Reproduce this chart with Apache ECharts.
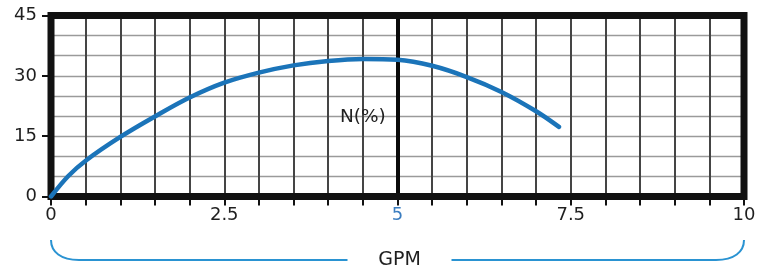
<!DOCTYPE html>
<html>
<head>
<meta charset="utf-8">
<script src="https://cdn.jsdelivr.net/npm/echarts@6/dist/echarts.min.js"></script>
<style>
html,body{margin:0;padding:0;background:#fff;}
#c{width:767px;height:271px;}
</style>
</head>
<body>
<div id="c"></div>
<script>
// Data
const gpm  = [0, 0.25, 0.5, 1, 1.5, 2, 2.5, 3, 3.5, 4, 4.5, 5, 5.5, 6, 6.5, 7, 7.33];
const nPct = [0, 5.1, 8.9, 14.8, 19.9, 24.6, 28.3, 30.8, 32.6, 33.7, 34.2, 34.0, 32.5, 29.7, 26.0, 21.2, 17.3];
const xTickLabels = [0, 2.5, 5, 7.5, 10];
const yTickLabels = [0, 15, 30, 45];
const xHighlight = 5;
const xTitle = 'GPM';
const seriesName = 'N(%)';
const nameAt = [4.5, 19.6];

const FONT = 'DejaVu Sans';
const TXT = '#1f1f1f';
const chart = echarts.init(document.getElementById('c'), null, {renderer: 'canvas'});

const option = {
  animation: false,
  backgroundColor: '#fff',
  grid: {left: 51, right: 23, top: 15.5, bottom: 74.5},
  xAxis: [{
    type: 'value', min: 0, max: 10, interval: 0.5, position: 'bottom',
    axisLine: {show: false},
    axisTick: {show: true, length: 9, lineStyle: {color: '#111', width: 2}},
    splitLine: {show: true, lineStyle: {color: '#454545', width: 2}},
    axisLabel: {
      show: true, margin: 10, fontFamily: FONT, fontSize: 18,
      color: function (v) { return Number(v) === xHighlight ? '#3b7dc0' : TXT; },
      formatter: function (v) { return xTickLabels.indexOf(v) >= 0 ? String(v) : ''; }
    }
  }],
  yAxis: [{
    type: 'value', min: 0, max: 45, interval: 5, position: 'right',
    axisLine: {show: false}, axisTick: {show: false}, axisLabel: {show: false},
    splitLine: {show: true, lineStyle: {color: '#9a9a9a', width: 1.3}}
  }, {
    type: 'value', min: 0, max: 45, interval: 15, position: 'left',
    axisLine: {show: false},
    axisTick: {show: true, length: 9, lineStyle: {color: '#111', width: 2}},
    splitLine: {show: false},
    axisLabel: {
      show: true, margin: 14, fontFamily: FONT, fontSize: 18, color: TXT,
      formatter: function (v) { return yTickLabels.indexOf(v) >= 0 ? String(v) : ''; }
    }
  }],
  series: [{
    type: 'line', name: seriesName, xAxisIndex: 0, yAxisIndex: 0,
    data: gpm.map((x, i) => [x, nPct[i]]),
    smooth: 0.35, showSymbol: false, symbol: 'none', z: 20,
    lineStyle: {color: '#1b74b9', width: 4.5, cap: 'round'},
    markLine: {
      silent: true, symbol: 'none', label: {show: false}, z: 3,
      lineStyle: {color: '#0a0a0a', width: 4, type: 'solid'},
      data: [{xAxis: xHighlight}]
    }
  }]
};
chart.setOption(option);

const p0 = chart.convertToPixel({xAxisIndex: 0, yAxisIndex: 0}, [0, 0]);
const p1 = chart.convertToPixel({xAxisIndex: 0, yAxisIndex: 0}, [10, 45]);
const pn = chart.convertToPixel({xAxisIndex: 0, yAxisIndex: 0}, nameAt);
const x0 = p0[0], x1 = p1[0], yb = p0[1], yt = p1[1];
const xm = (x0 + x1) / 2 + 2;
const by = 260, bt = 240;
const bstyle = {fill: null, stroke: '#2a93d2', lineWidth: 2};

chart.setOption({
  graphic: [{
    type: 'rect', silent: true, z: 4,
    shape: {x: x0, y: yt, width: x1 - x0, height: yb - yt},
    style: {fill: null, stroke: '#111', lineWidth: 7}
  }, {
    type: 'bezierCurve', silent: true,
    shape: {x1: x0, y1: bt, cpx1: x0, cpy1: bt + 12, cpx2: x0 + 10, cpy2: by, x2: x0 + 28, y2: by},
    style: bstyle
  }, {
    type: 'line', silent: true,
    shape: {x1: x0 + 28, y1: by, x2: xm - 52, y2: by},
    style: bstyle
  }, {
    type: 'line', silent: true,
    shape: {x1: xm + 52, y1: by, x2: x1 - 28, y2: by},
    style: bstyle
  }, {
    type: 'bezierCurve', silent: true,
    shape: {x1: x1 - 28, y1: by, cpx1: x1 - 10, cpy1: by, cpx2: x1, cpy2: bt + 12, x2: x1, y2: bt},
    style: bstyle
  }, {
    type: 'text', silent: true, x: xm, y: by,
    style: {text: xTitle, font: '19px "' + FONT + '"', fill: TXT, align: 'center', verticalAlign: 'middle'}
  }, {
    type: 'text', silent: true, x: pn[0], y: pn[1], z: 10,
    style: {text: seriesName, font: '18.5px "' + FONT + '"', fill: TXT, align: 'center', verticalAlign: 'middle'}
  }]
});
</script>
</body>
</html>
